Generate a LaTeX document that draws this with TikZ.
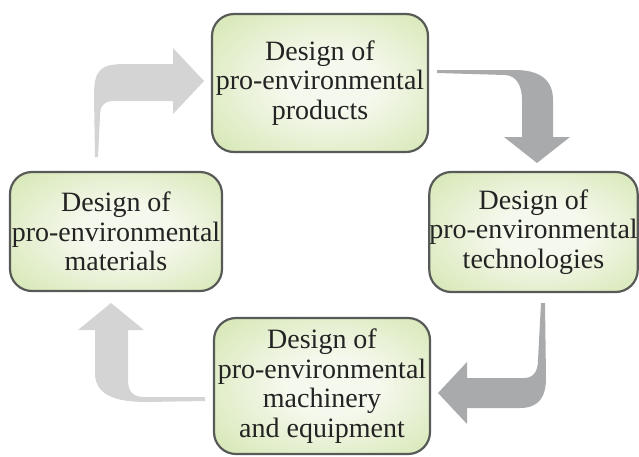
\documentclass[tikz,border=0pt]{standalone}
\usepackage{fontspec}
\setmainfont{Liberation Serif}

\definecolor{boxin}{RGB}{245,248,236}
\definecolor{boxout}{RGB}{208,228,170}
\definecolor{boxline}{RGB}{88,90,88}
\definecolor{arrowlight}{RGB}{212,212,212}
\definecolor{arrowdark}{RGB}{168,170,172}
\definecolor{textcol}{RGB}{35,35,35}

% soft light centre fading to green towards the rim
\pgfdeclareradialshading{boxglow}{\pgfpoint{3bp}{0bp}}{color(0bp)=(boxin); color(11bp)=(boxin); color(40bp)=(boxout); color(50bp)=(boxout)}

\begin{document}
\begin{tikzpicture}[x=1pt,y=-1pt,
  stage/.style={draw=boxline, line width=2.2pt, rounded corners=22pt,
    shading=boxglow, inner sep=0pt, outer sep=0pt, align=center,
    text=textcol, font=\fontsize{28}{29.5}\selectfont},
  lightarrow/.style={fill=arrowlight},
  darkarrow/.style={fill=arrowdark}]

\useasboundingbox (0,0) rectangle (639,456);

% the four design stages
\node[stage, minimum width=216pt, minimum height=138pt] (products) at (320,83)
  {Design of\\pro-environmental\\products};
\node[stage, minimum width=207pt, minimum height=120pt] (technologies) at (533.5,232)
  {Design of\\pro-environmental\\technologies};
\node[stage, minimum width=212pt, minimum height=119pt] (materials) at (116,231.5)
  {Design of\\pro-environmental\\materials};
\node[stage, minimum width=216pt, minimum height=136pt] (machinery) at (322,386)
  {Design of\\pro-environmental\\machinery\\and equipment};

% tapered bent arrows running clockwise round the cycle
% materials -> products
\fill[lightarrow] (95,157) -- (94,96) .. controls (94,70) and (100,64) .. (125,64)
  -- (173,64) -- (173,48) -- (204,81) -- (173,114) -- (173,101) -- (114,101)
  .. controls (104,101) and (100,106) .. (100,116) -- (98,157) -- cycle;

% products -> technologies
\fill[darkarrow] (437,70) -- (515,70) .. controls (540,70) and (553,80) .. (553,100)
  -- (553,137) -- (570,137) -- (537,163) -- (504,137) -- (522,137) -- (522,100)
  .. controls (522,85) and (516,75.5) .. (505,75) -- (437,73) -- cycle;

% technologies -> machinery
\fill[darkarrow] (541,303) -- (545,303) -- (546,378) .. controls (546,398) and (538,408) .. (520,408)
  -- (467,408) -- (467,424) -- (438,393) -- (467,362) -- (467,378) -- (524,378)
  .. controls (533,378) and (538,372) .. (538,360) -- cycle;

% machinery -> materials
\fill[lightarrow] (205,397) -- (205,401) -- (147,402) .. controls (115,402) and (95,395) .. (95,373)
  -- (95,330) -- (78,330) -- (111,303) -- (144,330) -- (128,330) -- (128,380)
  .. controls (128,392) and (133,397) .. (145,397) -- cycle;

\end{tikzpicture}
\end{document}
